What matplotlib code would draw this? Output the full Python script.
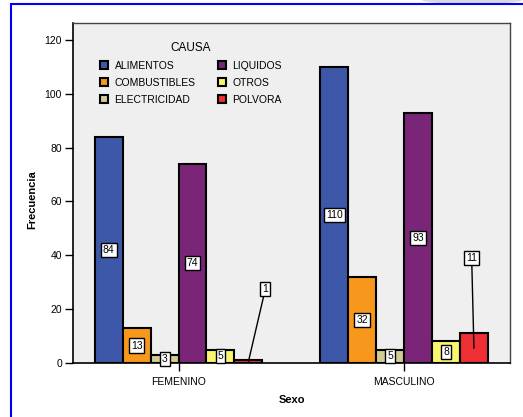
import matplotlib.pyplot as plt
from matplotlib.patches import Patch, Rectangle, Ellipse
import numpy as np

plt.rcParams['font.family'] = ['Liberation Sans', 'DejaVu Sans']

sexo = ["FEMENINO", "MASCULINO"]
causas = ["ALIMENTOS", "COMBUSTIBLES", "ELECTRICIDAD", "LIQUIDOS", "OTROS", "POLVORA"]
femenino = [84, 13, 3, 74, 5, 1]
masculino = [110, 32, 5, 93, 8, 11]
colores = ["#3D58A8", "#F7981D", "#D2CB93", "#7A2577", "#F9F56C", "#EE2F33"]

fig = plt.figure(figsize=(5.23, 4.17), dpi=100)
fig.patch.set_facecolor("white")

# blue frame around the chart and the grey blob at the top right
fig.patches.append(Ellipse((472 / 523, 1.0), 100 / 523, 8 / 417,
                           transform=fig.transFigure, facecolor="#DADADA",
                           edgecolor="none"))
fig.patches.append(Rectangle((11 / 523, -0.1), 1.2, 1 - 4 / 417 + 0.1,
                             transform=fig.transFigure, fill=False,
                             edgecolor="#0000FF", linewidth=1.5))

ax = fig.add_axes([73 / 523, 1 - 363 / 417, 437 / 523, 340 / 417])
ax.set_facecolor("#EFEFEF")

x = np.arange(len(sexo))
w = 0.124
valores = np.array([femenino, masculino])
for i, causa in enumerate(causas):
    pos = x + (i - 2.5) * w
    ax.bar(pos, valores[:, i], w, color=colores[i], edgecolor="black",
           linewidth=1.5, label=causa, zorder=2)
    for j, v in enumerate(valores[:, i]):
        box = dict(boxstyle="square,pad=0.2", facecolor="white",
                   edgecolor="black", linewidth=1)
        if causa == "POLVORA":
            dx = 0.075 if j == 0 else -0.01
            ty = 27.5 if j == 0 else 39
            ax.annotate(str(v), xy=(pos[j], v / 2), xytext=(pos[j] + dx, ty),
                        ha="center", va="center", fontsize=7.5, bbox=box,
                        arrowprops=dict(arrowstyle="-", color="black", lw=1,
                                        shrinkA=0, shrinkB=0), zorder=4)
        else:
            ax.text(pos[j], v / 2, str(v), ha="center", va="center",
                    fontsize=7.5, bbox=box, zorder=4)

ax.set_xlim(-0.468, 1.47)
ax.set_ylim(0, 126.3)
ax.set_yticks([0, 20, 40, 60, 80, 100, 120])
ax.set_xticks(x)
ax.set_xticklabels(sexo)
ax.tick_params(axis="both", direction="out", length=6, width=1, labelsize=7.5,
               colors="black", pad=2)
ax.tick_params(axis="x", pad=4)
for s in ["left", "bottom"]:
    ax.spines[s].set_linewidth(1.2)
for s in ["top", "right"]:
    ax.spines[s].set_color("#444444")
    ax.spines[s].set_linewidth(1)

ax.set_ylabel("Frecuencia", fontsize=8, fontweight="bold", labelpad=5)
ax.yaxis.set_label_coords(-0.082, 0.48)
ax.set_xlabel("Sexo", fontsize=8, fontweight="bold", labelpad=6)

handles = [Patch(facecolor=c, edgecolor="black", linewidth=1.5) for c in colores]
leg = ax.legend(handles, causas, title="CAUSA", ncol=2, loc="upper left",
                bbox_to_anchor=(0.045, 0.965), frameon=False, fontsize=7.5,
                title_fontsize=8.5, handlelength=0.8, handleheight=0.8,
                handletextpad=0.6, columnspacing=2.15, labelspacing=0.65,
                borderpad=0.2)

fig.savefig("out.png", dpi=100)
